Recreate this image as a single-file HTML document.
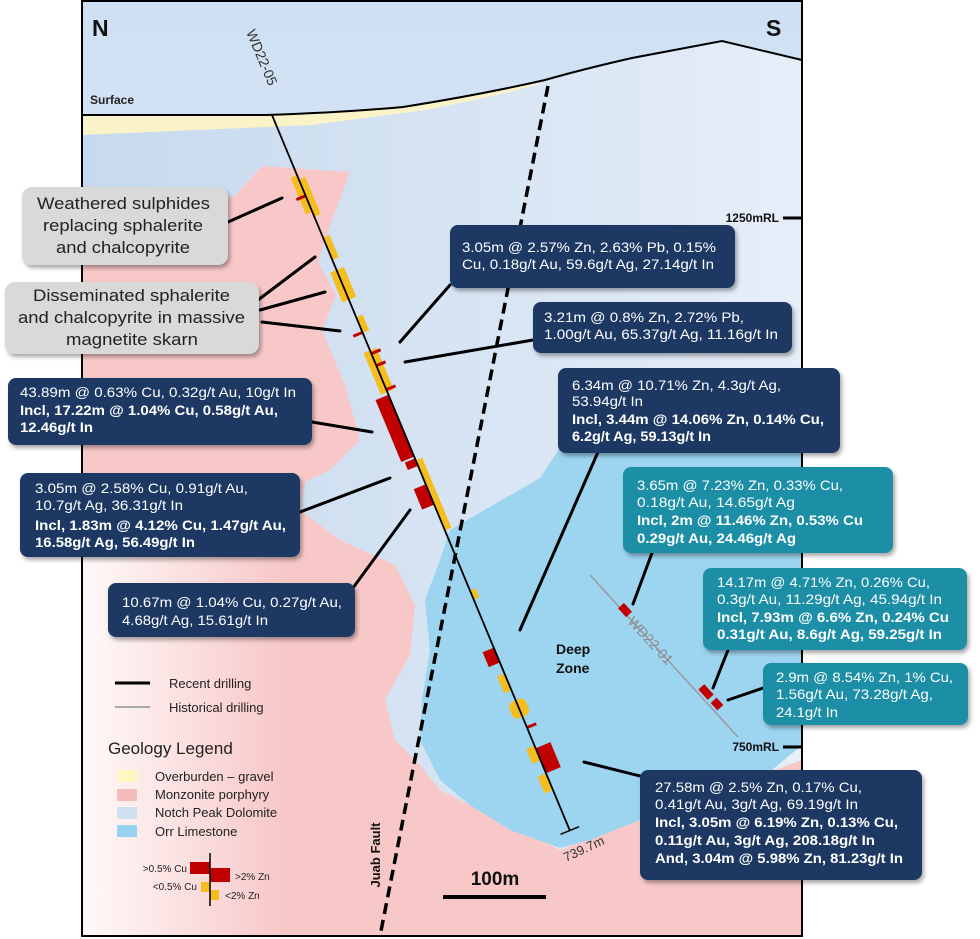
<!DOCTYPE html>
<html><head><meta charset="utf-8"><style>
html,body{margin:0;padding:0;background:#fff}
svg{display:block}
text{font-family:"Liberation Sans",Arial,sans-serif}
.w{fill:#fff;font-size:14px}
.b{font-weight:bold}
</style></head><body>
<svg width="980" height="939" viewBox="0 0 980 939" xmlns="http://www.w3.org/2000/svg">
<defs>
<linearGradient id="sky" x1="0" y1="0" x2="0" y2="1"><stop offset="0" stop-color="#cfe0f3"/><stop offset="1" stop-color="#ecf2fa"/></linearGradient>
<linearGradient id="nb" x1="0" y1="0" x2="1" y2="0"><stop offset="0" stop-color="#c6d9ee"/><stop offset="1" stop-color="#e6eef8"/></linearGradient>
<linearGradient id="wf" x1="0" y1="0" x2="1" y2="0"><stop offset="0" stop-color="#fff" stop-opacity="0.9"/><stop offset="1" stop-color="#fff" stop-opacity="0"/></linearGradient>
<filter id="sh" x="-10%" y="-10%" width="125%" height="130%"><feDropShadow dx="2" dy="3" stdDeviation="2" flood-color="#000" flood-opacity="0.35"/></filter>
</defs>
<rect x="82" y="0" width="720" height="936" fill="url(#sky)"/>
<path d="M82,115 L265,115 C330,113 370,110 403,107 C460,98 510,88 545,80 C580,70 610,63 632,58 L722,41 L802,60 L802,936 L82,936 Z" fill="url(#nb)"/>
<path d="M82,115 L265,115 C330,113 370,110 403,107 C460,98 510,88 545,80 L536,85 C500,95 460,103 426,110 L311,125 L82,135 Z" fill="#fbf3c8"/>
<path d="M82,202 L235,196 L262,166 L350,172 L325,240 L318,262 L336,295 L322,330 L345,385 L360,440 L330,470 L305,482 L300,510 L340,540 L395,565 L415,605 L410,655 L385,700 L395,740 L420,765 L440,790 L500,820 L560,850 L802,760 L802,936 L82,936 Z" fill="#f8c8c8"/>
<rect x="82" y="480" width="200" height="456" fill="url(#wf)"/>
<path d="M440,560 L450,530 L540,478 L565,440 L560,425 L600,418 L640,430 L700,445 L802,450 L802,745 L760,780 L700,800 L640,820 L590,840 L560,848 L510,830 L470,805 L440,780 L420,740 L422,700 L430,650 L425,600 Z" fill="#9dd4f0"/>
<rect x="82" y="1" width="720" height="935" fill="none" stroke="#000" stroke-width="2"/>
<path d="M82,115 L265,115 C330,113 370,110 403,107 C460,98 510,88 545,80 C580,70 610,63 632,58 L722,41 L802,60" fill="none" stroke="#000" stroke-width="2"/>
<text x="90" y="104" font-size="12" font-weight="bold" fill="#222">Surface</text>
<text x="92" y="36" font-size="23" font-weight="bold" fill="#111">N</text>
<text x="766" y="36" font-size="23" font-weight="bold" fill="#111">S</text>
<line x1="548" y1="86" x2="380" y2="936" stroke="#000" stroke-width="3.5" stroke-dasharray="11 6"/>
<text transform="translate(380,855) rotate(-90)" font-size="13" font-weight="bold" text-anchor="middle" fill="#111">Juab Fault</text>
<line x1="590" y1="575" x2="738" y2="737" stroke="#9a9a9a" stroke-width="1.5"/>
<text transform="translate(627,622) rotate(47.6)" font-size="14" fill="#8a8a8a">WD22-01</text>
<rect x="-6" y="-4" width="12" height="8" fill="#c00000" transform="translate(625,610) rotate(47.6)"/>
<rect x="-7" y="-4" width="14" height="8" fill="#c00000" transform="translate(706,692) rotate(47.6)"/>
<rect x="-5" y="-4" width="10" height="8" fill="#c00000" transform="translate(717,704) rotate(47.6)"/>
<text transform="translate(246,32) rotate(67.4)" font-size="14" fill="#333">WD22-05</text>
<g transform="translate(272,115) rotate(-22.6)">
<g fill="#f5be1e">
<rect x="-7" y="65" width="7" height="40"/><rect x="0" y="70" width="7" height="40"/>
<rect x="0" y="133" width="7" height="24"/>
<rect x="-7" y="168" width="7" height="32"/><rect x="0" y="168" width="8" height="32"/>
<rect x="0" y="219" width="7" height="17"/>
<rect x="-7" y="255" width="7" height="45"/><rect x="0" y="255" width="7" height="45"/>
<rect x="0" y="374" width="7" height="76"/>
<rect x="0" y="515" width="6" height="10"/>
<rect x="-8" y="605" width="8" height="18"/>
<rect x="-9" y="634" width="18" height="18" rx="6"/>
<rect x="-9" y="683" width="9" height="16"/>
<rect x="-9" y="713" width="9" height="18"/>
</g>
<g fill="#c00000">
<rect x="-10" y="86" width="10" height="3"/>
<rect x="-10" y="234" width="10" height="3"/>
<rect x="0" y="257" width="10" height="3"/><rect x="0" y="270" width="10" height="3"/><rect x="0" y="296" width="10" height="3"/>
<rect x="-14" y="303" width="14" height="67"/>
<rect x="-11" y="372" width="11" height="8"/>
<rect x="-13" y="400" width="13" height="22"/>
<rect x="-12" y="577" width="12" height="16"/>
<rect x="0" y="662" width="10" height="3"/>
<rect x="0" y="686" width="16" height="27"/>
</g>
<line x1="0" y1="0" x2="0" y2="775" stroke="#000" stroke-width="1.8"/>
<line x1="-10" y1="775" x2="10" y2="775" stroke="#000" stroke-width="1.5"/>
</g>
<text transform="translate(566,862) rotate(-25)" font-size="13" fill="#333">739.7m</text>
<text x="779" y="222" font-size="12" font-weight="bold" text-anchor="end" fill="#111">1250mRL</text>
<line x1="783" y1="218" x2="802" y2="218" stroke="#000" stroke-width="3"/>
<text x="779" y="751" font-size="12" font-weight="bold" text-anchor="end" fill="#111">750mRL</text>
<line x1="783" y1="747" x2="802" y2="747" stroke="#000" stroke-width="3"/>
<text x="556" y="654" font-size="14" font-weight="bold" fill="#111">Deep</text>
<text x="556" y="673" font-size="14" font-weight="bold" fill="#111">Zone</text>
<g stroke="#000" stroke-width="3" stroke-linecap="round">
<line x1="228" y1="222" x2="282" y2="198"/>
<line x1="258" y1="300" x2="315" y2="257"/>
<line x1="260" y1="310" x2="325" y2="292"/>
<line x1="262" y1="322" x2="340" y2="331"/>
<line x1="312" y1="422" x2="372" y2="432"/>
<line x1="300" y1="512" x2="390" y2="478"/>
<line x1="350" y1="592" x2="410" y2="510"/>
<line x1="450" y1="285" x2="400" y2="342"/>
<line x1="533" y1="340" x2="405" y2="362"/>
<line x1="598" y1="452" x2="520" y2="630"/>
<line x1="652" y1="553" x2="633" y2="604"/>
<line x1="728" y1="650" x2="713" y2="688"/>
<line x1="763" y1="688" x2="728" y2="700"/>
<line x1="640" y1="776" x2="584" y2="762"/>
</g>
<rect x="22" y="187" width="206" height="78" rx="10" fill="#d9d9d9" filter="url(#sh)"/>
<g font-size="17" fill="#222">
<text x="37" y="209" textLength="173" lengthAdjust="spacingAndGlyphs">Weathered sulphides</text>
<text x="43" y="231" textLength="160" lengthAdjust="spacingAndGlyphs">replacing sphalerite</text>
<text x="56" y="253" textLength="134" lengthAdjust="spacingAndGlyphs">and chalcopyrite</text>
</g>
<rect x="5" y="282" width="254" height="72" rx="10" fill="#d9d9d9" filter="url(#sh)"/>
<g font-size="17" fill="#222">
<text x="33" y="301" textLength="197" lengthAdjust="spacingAndGlyphs">Disseminated sphalerite</text>
<text x="18" y="323" textLength="227" lengthAdjust="spacingAndGlyphs">and chalcopyrite in massive</text>
<text x="66" y="345" textLength="132" lengthAdjust="spacingAndGlyphs">magnetite skarn</text>
</g>
<g fill="#1f3864" filter="url(#sh)">
<rect x="450" y="225" width="285" height="63" rx="8"/>
<rect x="533" y="302" width="259" height="51" rx="8"/>
<rect x="558" y="368" width="282" height="85" rx="8"/>
<rect x="8" y="378" width="304" height="67" rx="8"/>
<rect x="20" y="473" width="280" height="84" rx="8"/>
<rect x="108" y="583" width="247" height="54" rx="8"/>
<rect x="640" y="770" width="282" height="110" rx="8"/>
</g>
<g fill="#1c8fa6" filter="url(#sh)">
<rect x="623" y="467" width="270" height="86" rx="8"/>
<rect x="703" y="568" width="264" height="82" rx="8"/>
<rect x="763" y="663" width="205" height="62" rx="8"/>
</g>
<g class="w">
<text x="462" y="252" textLength="254" lengthAdjust="spacingAndGlyphs">3.05m @ 2.57% Zn, 2.63% Pb, 0.15%</text>
<text x="462" y="269" textLength="252" lengthAdjust="spacingAndGlyphs">Cu, 0.18g/t Au, 59.6g/t Ag, 27.14g/t In</text>
<text x="544" y="322" textLength="200" lengthAdjust="spacingAndGlyphs">3.21m @ 0.8% Zn, 2.72% Pb,</text>
<text x="544" y="339" textLength="234" lengthAdjust="spacingAndGlyphs">1.00g/t Au, 65.37g/t Ag, 11.16g/t In</text>
<text x="572" y="390" textLength="209" lengthAdjust="spacingAndGlyphs">6.34m @ 10.71% Zn, 4.3g/t Ag,</text>
<text x="572" y="406" textLength="71" lengthAdjust="spacingAndGlyphs">53.94g/t In</text>
<text class="b" x="572" y="424" textLength="252" lengthAdjust="spacingAndGlyphs">Incl, 3.44m @ 14.06% Zn, 0.14% Cu,</text>
<text class="b" x="572" y="441" textLength="139" lengthAdjust="spacingAndGlyphs">6.2g/t Ag, 59.13g/t In</text>
<text x="20" y="397" textLength="276" lengthAdjust="spacingAndGlyphs">43.89m @ 0.63% Cu, 0.32g/t Au, 10g/t In</text>
<text class="b" x="20" y="415" textLength="258" lengthAdjust="spacingAndGlyphs">Incl, 17.22m @ 1.04% Cu, 0.58g/t Au,</text>
<text class="b" x="20" y="432" textLength="73" lengthAdjust="spacingAndGlyphs">12.46g/t In</text>
<text x="35" y="493" textLength="213" lengthAdjust="spacingAndGlyphs">3.05m @ 2.58% Cu, 0.91g/t Au,</text>
<text x="35" y="510" textLength="148" lengthAdjust="spacingAndGlyphs">10.7g/t Ag, 36.31g/t In</text>
<text class="b" x="35" y="530" textLength="251" lengthAdjust="spacingAndGlyphs">Incl, 1.83m @ 4.12% Cu, 1.47g/t Au,</text>
<text class="b" x="35" y="547" textLength="160" lengthAdjust="spacingAndGlyphs">16.58g/t Ag, 56.49g/t In</text>
<text x="122" y="607" textLength="220" lengthAdjust="spacingAndGlyphs">10.67m @ 1.04% Cu, 0.27g/t Au,</text>
<text x="122" y="625" textLength="146" lengthAdjust="spacingAndGlyphs">4.68g/t Ag, 15.61g/t In</text>
<text x="637" y="490" textLength="206" lengthAdjust="spacingAndGlyphs">3.65m @ 7.23% Zn, 0.33% Cu,</text>
<text x="637" y="507" textLength="158" lengthAdjust="spacingAndGlyphs">0.18g/t Au, 14.65g/t Ag</text>
<text class="b" x="637" y="525" textLength="226" lengthAdjust="spacingAndGlyphs">Incl, 2m @ 11.46% Zn, 0.53% Cu</text>
<text class="b" x="637" y="543" textLength="159" lengthAdjust="spacingAndGlyphs">0.29g/t Au, 24.46g/t Ag</text>
<text x="717" y="587" textLength="213" lengthAdjust="spacingAndGlyphs">14.17m @ 4.71% Zn, 0.26% Cu,</text>
<text x="717" y="604" textLength="225" lengthAdjust="spacingAndGlyphs">0.3g/t Au, 11.29g/t Ag, 45.94g/t In</text>
<text class="b" x="717" y="622" textLength="232" lengthAdjust="spacingAndGlyphs">Incl, 7.93m @ 6.6% Zn, 0.24% Cu</text>
<text class="b" x="717" y="639" textLength="225" lengthAdjust="spacingAndGlyphs">0.31g/t Au, 8.6g/t Ag, 59.25g/t In</text>
<text x="776" y="682" textLength="177" lengthAdjust="spacingAndGlyphs">2.9m @ 8.54% Zn, 1% Cu,</text>
<text x="776" y="699" textLength="157" lengthAdjust="spacingAndGlyphs">1.56g/t Au, 73.28g/t Ag,</text>
<text x="776" y="717" textLength="62" lengthAdjust="spacingAndGlyphs">24.1g/t In</text>
<text x="655" y="792" textLength="207" lengthAdjust="spacingAndGlyphs">27.58m @ 2.5% Zn, 0.17% Cu,</text>
<text x="655" y="809" textLength="203" lengthAdjust="spacingAndGlyphs">0.41g/t Au, 3g/t Ag, 69.19g/t In</text>
<text class="b" x="655" y="827" textLength="243" lengthAdjust="spacingAndGlyphs">Incl, 3.05m @ 6.19% Zn, 0.13% Cu,</text>
<text class="b" x="655" y="845" textLength="220" lengthAdjust="spacingAndGlyphs">0.11g/t Au, 3g/t Ag, 208.18g/t In</text>
<text class="b" x="655" y="863" textLength="248" lengthAdjust="spacingAndGlyphs">And, 3.04m @ 5.98% Zn, 81.23g/t In</text>
</g>
<line x1="115" y1="683" x2="150" y2="683" stroke="#000" stroke-width="3"/>
<text x="169" y="688" font-size="13" fill="#222">Recent drilling</text>
<line x1="115" y1="707" x2="150" y2="707" stroke="#aaa" stroke-width="2"/>
<text x="169" y="712" font-size="13" fill="#222">Historical drilling</text>
<text x="108" y="754" font-size="17" fill="#222">Geology Legend</text>
<rect x="117" y="770" width="20" height="12" fill="#fff6c0"/>
<rect x="117" y="789" width="20" height="12" fill="#f6bcbc"/>
<rect x="117" y="807" width="20" height="12" fill="#cfe0f1"/>
<rect x="117" y="825" width="20" height="12" fill="#97d2f0"/>
<g font-size="13" fill="#222">
<text x="155" y="781">Overburden – gravel</text>
<text x="155" y="799">Monzonite porphyry</text>
<text x="155" y="817">Notch Peak Dolomite</text>
<text x="155" y="836">Orr Limestone</text>
</g>
<rect x="190" y="862" width="20" height="12" fill="#c00000"/>
<rect x="210" y="868" width="20" height="14" fill="#c00000"/>
<rect x="201" y="882" width="9" height="10" fill="#f5be1e"/>
<rect x="210" y="890" width="9" height="10" fill="#f5be1e"/>
<line x1="210" y1="853" x2="210" y2="906" stroke="#000" stroke-width="1.5"/>
<g font-size="10" fill="#222">
<text x="187" y="872" text-anchor="end">&gt;0.5% Cu</text>
<text x="235" y="880">&gt;2% Zn</text>
<text x="197" y="890" text-anchor="end">&lt;0.5% Cu</text>
<text x="225" y="899">&lt;2% Zn</text>
</g>
<text x="495" y="885" font-size="19" font-weight="bold" text-anchor="middle" fill="#111">100m</text>
<line x1="443" y1="897" x2="546" y2="897" stroke="#000" stroke-width="4"/>
</svg>
</body></html>
